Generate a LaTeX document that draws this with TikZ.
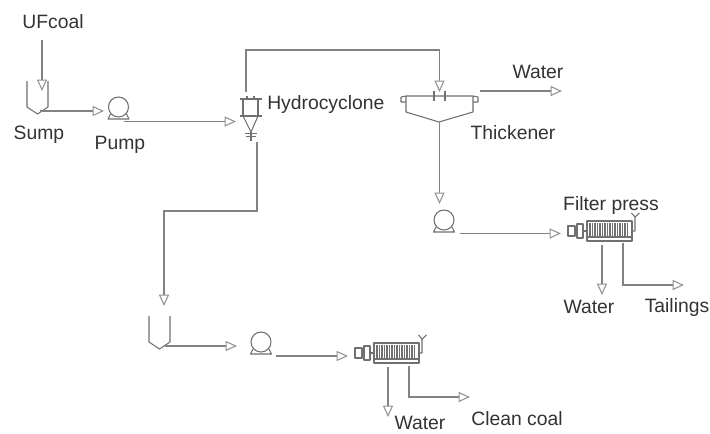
\documentclass[tikz,border=0pt]{standalone}
\usepackage{fontspec}
\setmainfont{Liberation Sans}
\usetikzlibrary{arrows.meta}
\definecolor{ln}{HTML}{707070}
\definecolor{fl}{HTML}{828282}
\definecolor{tip}{HTML}{939393}
\definecolor{tx}{HTML}{333333}
\tikzset{
  equip/.style={draw=ln,line width=0.8pt,line join=round},
  flow/.style={draw=fl,line width=0.8pt,-{Triangle[open,length=8.5pt,width=7.5pt,color=tip]}},
  lbl/.style={text=tx,inner sep=0pt,font=\fontsize{14.5}{16}\selectfont},
  tank/.pic={\draw[equip] (-10.5,-33)--(-10.5,-7)--(0,0)--(10.5,-7)--(10.5,-33);},
  pump/.pic={
    \draw[equip] (0,2) circle[radius=10];
    \draw[equip] (-8,9)--(-10.5,14)--(10.5,14)--(8,9);
  },
  fpress/.pic={
    \draw[equip] (0,0) rectangle (7,10);
    \draw[equip] (7,5)--(9,5);
    \draw[equip] (9,-2) rectangle (15,12);
    \draw[equip] (15,5)--(19,5);
    \draw[equip] (19,-5) rectangle (64,11);
    \draw[equip] (19,11) rectangle (64,15);
    \foreach \i in {22,24.5,...,60}{\draw[ln,line width=0.8pt] (\i,-3)--(\i,10);}
    \draw[equip] (64,5)--(67,5)--(67,-9)--(63.5,-13);
    \draw[equip] (67,-9)--(71.5,-13);
  },
}
\begin{document}
\begin{tikzpicture}[x=0.75pt,y=-0.75pt]
\useasboundingbox (0,0) rectangle (710,433);
\clip (0,0) rectangle (710,433);
\fill[white] (0,0) rectangle (710,433);

% equipment
\pic at (37.5,114) {tank};
\pic at (118.5,105) {pump};
\pic at (159.5,349) {tank};
\pic at (444,218) {pump};
\pic at (261,340) {pump};
\pic at (568,226) {fpress};
\pic at (355,348) {fpress};

% hydrocyclone
\draw[equip] (240,99)--(262,99) (247,96)--(247,99) (254,96)--(254,99);
\draw[equip] (243,99)--(243,116) (258,99)--(258,116);
\draw[equip] (240,116)--(262,116);
\draw[equip] (243,116)--(251,132)--(258,116);
\draw[equip] (251,132)--(251,141) (245,133.5)--(257,133.5) (246,136.5)--(256,136.5);

% thickener
\draw[equip] (401,97)--(401,102)--(406,102) (401,97)--(406,96)--(473,96)--(478,97)--(478,102)--(473,102);
\draw[equip] (406,96)--(406,112)--(439,122)--(473,112)--(473,96);
\draw[equip] (434,91)--(434,101) (445,91)--(445,101);

% labels
\node[lbl] (ufcoal) at (53,22) {UFcoal};
\node[lbl] (sumpl) at (39,135) {Sump};
\node[lbl] (pumpl) at (120,145) {Pump};
\node[lbl,anchor=west] (hyl) at (267,104) {Hydrocyclone};
\node[lbl] (w1) at (538,72) {Water};
\node[lbl] (thl) at (513,133) {Thickener};
\node[lbl] (fpl) at (611,205) {Filter press};
\node[lbl] (w2) at (589,307) {Water};
\node[lbl] (tail) at (677,307) {Tailings};
\node[lbl] (w3) at (420,422.5) {Water};
\node[lbl] (clean) at (517,419) {Clean coal};

% connector ends
\coordinate (a1) at (42,40);     \coordinate (a2) at (42,91);
\coordinate (b1) at (40,111);    \coordinate (b2) at (104,111);
\coordinate (c1) at (124,121.5); \coordinate (c2) at (236,121.5);
\coordinate (d1) at (246,92);    \coordinate (d2) at (439.5,92);
\coordinate (e1) at (480,91);    \coordinate (e2) at (562,91);
\coordinate (f1) at (439.5,122); \coordinate (f2) at (439.5,204);
\coordinate (g1) at (460,233.5); \coordinate (g2) at (561,233.5);
\coordinate (h1) at (602,245);   \coordinate (h2) at (602,295);
\coordinate (i1) at (623,243);   \coordinate (i2) at (684,285);
\coordinate (j1) at (257,142);   \coordinate (j2) at (164,306);
\coordinate (k1) at (165,346);   \coordinate (k2) at (237,346);
\coordinate (l1) at (276,356);   \coordinate (l2) at (348,356);
\coordinate (m1) at (388,367);   \coordinate (m2) at (388,417);
\coordinate (n1) at (409,366);   \coordinate (n2) at (470,397);

% connectors
\draw[flow] (a1)--(a2);
\draw[flow] (b1)--(b2);
\draw[flow] (c1)--(c2);
\draw[flow] (d1)--(246,50)-|(d2);
\draw[flow] (e1)--(e2);
\draw[flow] (f1)--(f2);
\draw[flow] (g1)--(g2);
\draw[flow] (h1)--(h2);
\draw[flow] (i1)|-(i2);
\draw[flow] (j1)--(257,211)-|(j2);
\draw[flow] (k1)--(k2);
\draw[flow] (l1)--(l2);
\draw[flow] (m1)--(m2);
\draw[flow] (n1)|-(n2);
\end{tikzpicture}
\end{document}
